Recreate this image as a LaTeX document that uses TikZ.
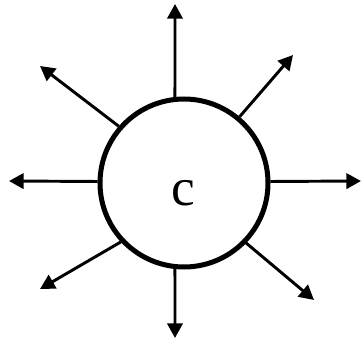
\documentclass[tikz,border=0pt]{standalone}
\usepackage{fontspec}
\setmainfont{Liberation Serif}
\usetikzlibrary{arrows.meta}

\begin{document}
\begin{tikzpicture}[
    x=0.75pt, y=-0.75pt,
    ring/.style={circle, draw=black, line width=3.75pt, minimum size=126pt, inner sep=0pt},
    ray/.style={-{Triangle[length=11pt, width=11.5pt]}, line width=2.2pt, black}
]
\useasboundingbox (0,0) rectangle (361,342);

% ── Centre ──
\node[ring] (c) at (184,183) {};
\node[inner sep=0pt] (lab) at (183,193) {\fontsize{40}{40}\selectfont c};

% Tips
\coordinate (tn) at (175,4);
\coordinate (ts) at (175,338);
\coordinate (tw) at (9,181);
\coordinate (te) at (361,181);
\coordinate (tnw) at (40,66);
\coordinate (tne) at (293,55);
\coordinate (tsw) at (40,289);
\coordinate (tse) at (314,300);

% ── Rays ──
\draw[ray] (c.96) -- (tn);
\draw[ray] (c.264) -- (ts);
\draw[ray] (c.179) -- (tw);
\draw[ray] (c.1) -- (te);
\draw[ray] (c.139) -- (tnw);
\draw[ray] (c.50) -- (tne);
\draw[ray] (c.223) -- (tsw);
\draw[ray] (c.316) -- (tse);

\end{tikzpicture}
\end{document}
